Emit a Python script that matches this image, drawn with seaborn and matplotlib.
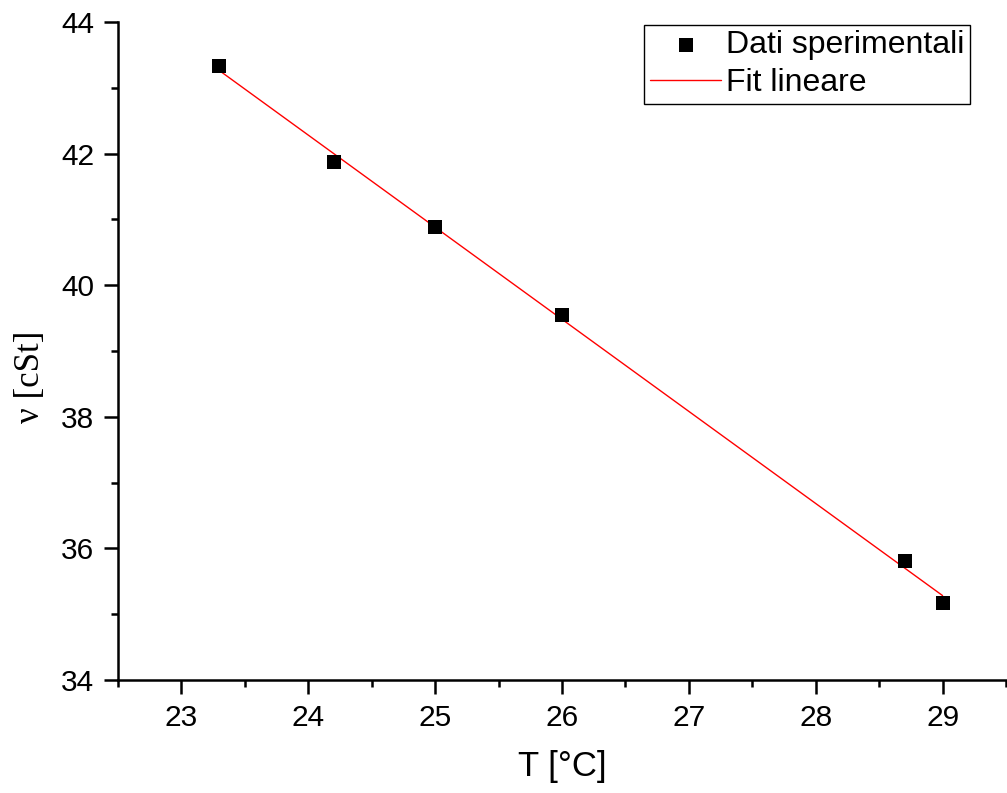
import numpy as np
import pandas as pd
import matplotlib
matplotlib.use("Agg")
import matplotlib.pyplot as plt
from matplotlib.ticker import MultipleLocator
import seaborn as sns

# Measured kinematic viscosity versus temperature
temperature = [23.3, 24.2, 25.0, 26.0, 28.7, 29.0]
viscosity = [43.33, 41.87, 40.88, 39.55, 35.81, 35.17]

x_ticks = [23, 24, 25, 26, 27, 28, 29]
y_ticks = [34, 36, 38, 40, 42, 44]

sns.set_theme(style="ticks")
plt.rcParams["font.family"] = ["Liberation Sans", "DejaVu Sans"]
plt.rcParams.update({"text.color": "black", "axes.labelcolor": "black",
                     "xtick.color": "black", "ytick.color": "black"})

df = pd.DataFrame({"T": temperature, "nu": viscosity})

# Least-squares straight line through the measurements
slope, intercept = np.polyfit(df["T"], df["nu"], 1)
fit_x = np.array([min(temperature), max(temperature)])
fit_df = pd.DataFrame({"T": fit_x, "nu": slope * fit_x + intercept})

fig = plt.figure(figsize=(10.07, 7.93), dpi=100)
ax = fig.add_axes([118 / 1007, 1 - 680 / 793, 888 / 1007, 658 / 793])

sns.lineplot(data=fit_df, x="T", y="nu", ax=ax, color="red", linewidth=1.0,
             label="Fit lineare", zorder=2)
sns.scatterplot(data=df, x="T", y="nu", ax=ax, marker="s", s=115, color="black",
                edgecolor="black", linewidth=0, label="Dati sperimentali", zorder=3)

ax.set_xlim(22.5, 29.5)
ax.set_ylim(34, 44)
ax.set_xticks(x_ticks)
ax.set_yticks(y_ticks)
ax.xaxis.set_minor_locator(MultipleLocator(0.5))
ax.yaxis.set_minor_locator(MultipleLocator(1))

for side in ("top", "right"):
    ax.spines[side].set_visible(False)
for side in ("left", "bottom"):
    ax.spines[side].set_linewidth(1.8)
    ax.spines[side].set_color("black")

ax.tick_params(axis="both", which="major", direction="out", length=10, width=1.8,
               labelsize=21.5, colors="black", pad=7)
ax.tick_params(axis="both", which="minor", direction="out", length=5, width=1.8,
               colors="black")

ax.set_xlabel("T [°C]", fontsize=25)
ax.xaxis.set_label_coords(0.5, (680 - 750) / 658)
ax.set_ylabel("ν [cSt]", fontsize=25, family=["Liberation Serif", "DejaVu Serif"])
ax.yaxis.set_label_coords((30 - 118) / 888, (680 - 377) / 658)
ax.yaxis.label.set_verticalalignment("center")

handles, labels = ax.get_legend_handles_labels()
order = [labels.index("Dati sperimentali"), labels.index("Fit lineare")]
leg = ax.legend([handles[i] for i in order], [labels[i] for i in order],
                loc="upper right", bbox_to_anchor=(0.9595, 0.9954),
                borderaxespad=0, fontsize=23, frameon=True, fancybox=False,
                edgecolor="black", framealpha=1, handlelength=2.25,
                handletextpad=0.15, borderpad=0.17, labelspacing=0.24)
leg.get_frame().set_linewidth(1.0)

fig.savefig("out.png", dpi=100, facecolor="white")
